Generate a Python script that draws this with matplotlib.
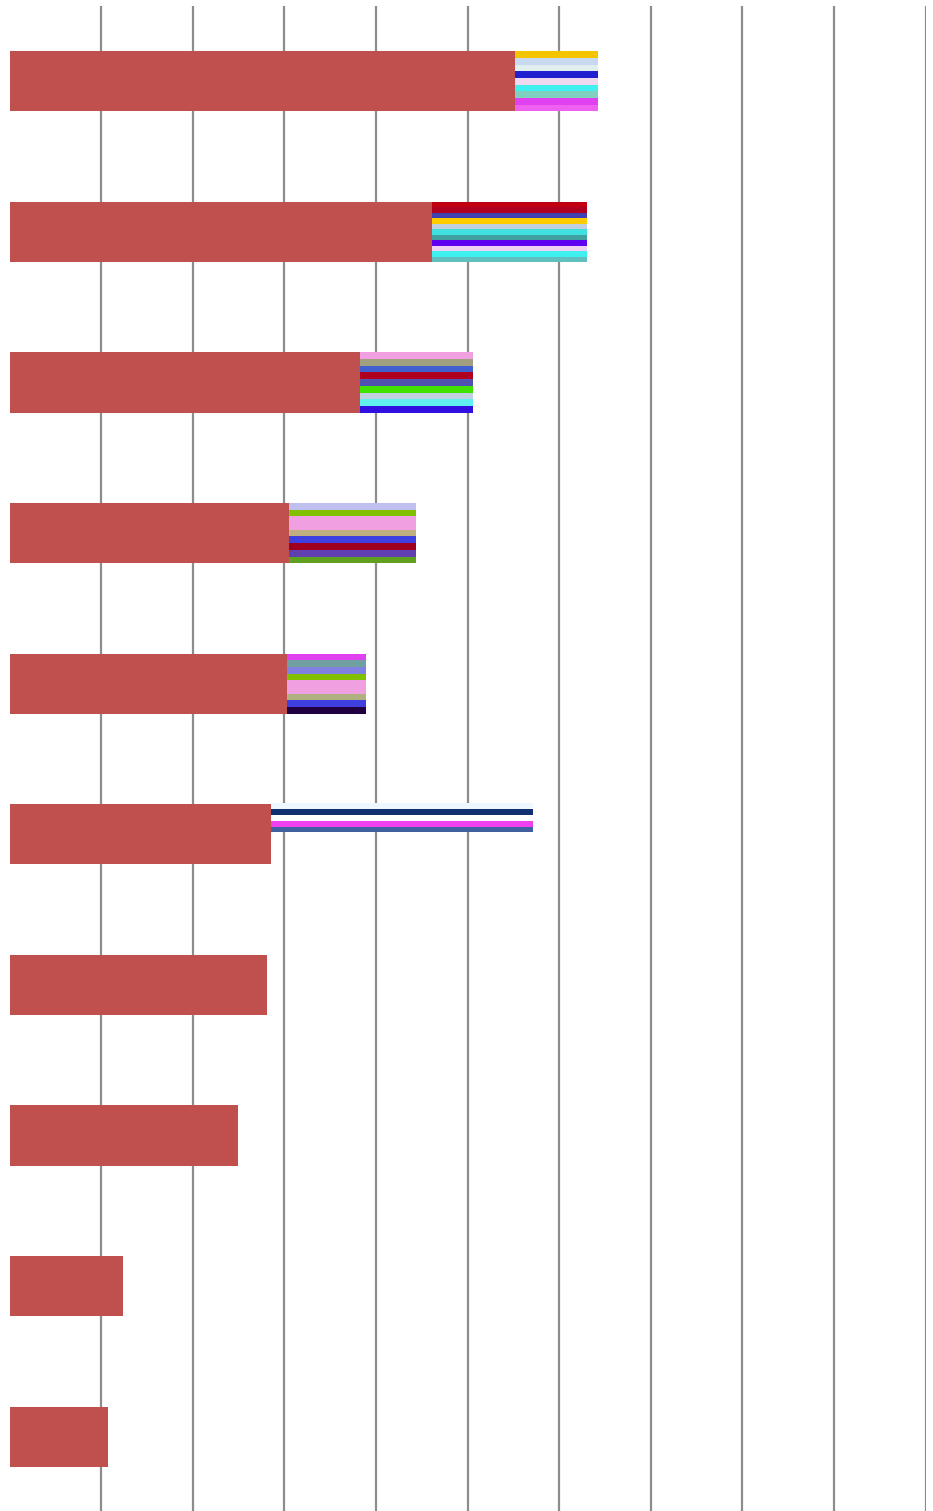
import matplotlib
matplotlib.use("Agg")
import matplotlib.pyplot as plt
import numpy as np

# bar values, top to bottom
values = [5.52, 4.61, 3.83, 3.05, 3.03, 2.85, 2.81, 2.49, 1.24, 1.08]
# garbled label blocks drawn after the first six bars
extra = [0.91, 1.69, 1.23, 1.39, 0.86, 2.86]

stripe_colors = [
    ["#f5c400", "#c8d8f0", "#e0eeee", "#2020d0", "#f0d8f0", "#40f0f0", "#80d0c0", "#e040f0", "#f060f0"],
    ["#c00010", "#b00020", "#4040b0", "#ffcc00", "#c0d0e0", "#40e0e0", "#40a0a0", "#6000f0", "#f0d0f0", "#40f0f0", "#60c0c0"],
    ["#f0a0e0", "#a0a080", "#4060d0", "#b00020", "#5050b0", "#40e000", "#c0d0e0", "#60f0f0", "#3010e0"],
    ["#c0c0f0", "#80c000", "#f0a0e0", "#f0a0e0", "#c0b080", "#4040e0", "#a00020", "#6040b0", "#60a020"],
    ["#e040f0", "#70a0a0", "#8080e0", "#80c000", "#f0a0e0", "#f0a0e0", "#b0b080", "#4040e0", "#200040"],
    ["#f0f8ff", "#103070", "#ffffff", "#f040f0", "#4060a0"],
]

fig = plt.figure(figsize=(9.33, 15.11), dpi=100)
ax = fig.add_axes([9.5 / 933, -1 / 1511, 916 / 933, 1506 / 1511])

y = np.arange(len(values))
bar_h = 0.4
ax.barh(y, values, height=bar_h, color="#c0504d", zorder=3)

for i, (start, width) in enumerate(zip(values, extra)):
    cols = stripe_colors[i]
    if i == 5:
        top, bottom = -0.206, -0.013
    else:
        top, bottom = -bar_h / 2, bar_h / 2
    edges = np.linspace(top, bottom, len(cols) + 1)
    for c, (t, b) in zip(cols, zip(edges[:-1], edges[1:])):
        ax.barh(i + (t + b) / 2, width, left=start, height=b - t,
                color=c, zorder=4, linewidth=0)

ax.set_xlim(0, 10)
ax.set_ylim(-0.5, len(values) - 0.5)
ax.invert_yaxis()
ax.set_xticks(np.arange(1, 11))
ax.grid(axis="x", color="#8c8c8c", linewidth=1.6, zorder=0)
ax.tick_params(left=False, bottom=False, labelleft=False, labelbottom=False)
for s in ax.spines.values():
    s.set_visible(False)

fig.savefig("out.png", dpi=100)
